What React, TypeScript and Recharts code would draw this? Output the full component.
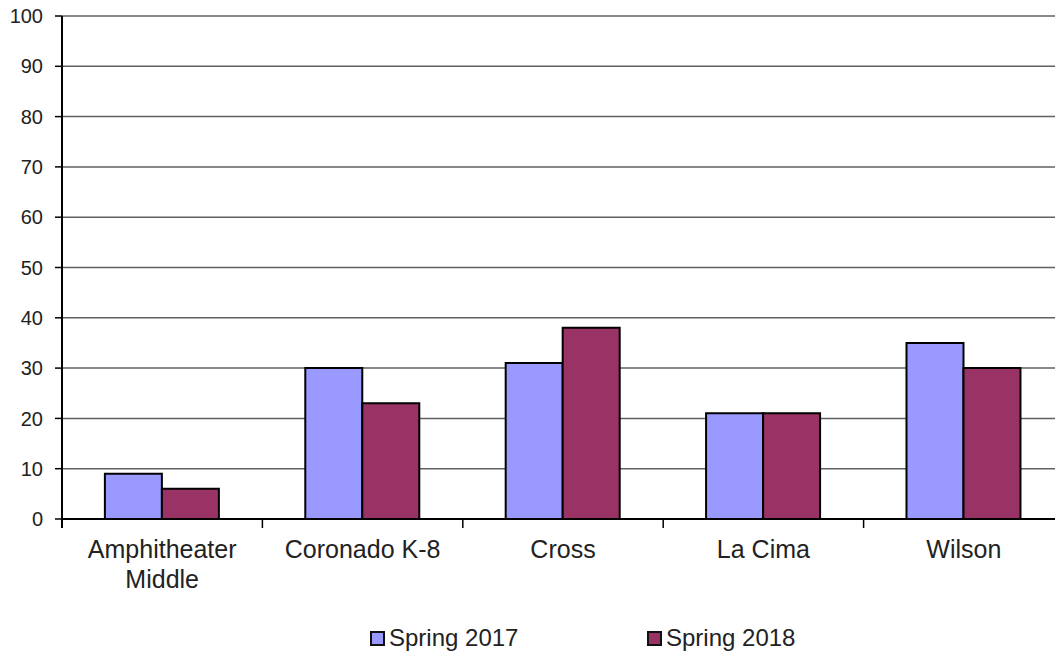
import {
  BarChart, Bar, XAxis, YAxis, CartesianGrid, Legend,
} from "recharts";

const schools = ["Amphitheater\nMiddle", "Coronado K-8", "Cross", "La Cima", "Wilson"];
const spring2017 = [9, 30, 31, 21, 35];
const spring2018 = [6, 23, 38, 21, 30];
const yTicks = [0, 10, 20, 30, 40, 50, 60, 70, 80, 90, 100];

const data = schools.map((name, i) => ({
  name,
  s2017: spring2017[i],
  s2018: spring2018[i],
}));

// the plot runs a little past the right edge of the picture, so draw wider and clip
const W = 1064;
const VIEW_W = 1055;
const H = 652;
const Y_AXIS_W = 62;
const BAND = (W - Y_AXIS_W) / schools.length;
const FONT = "'Liberation Sans', Arial, sans-serif";

function SchoolTick(props: any) {
  const { x, y, payload, index } = props;
  const lines = String(payload.value).split("\n");
  return (
    <g>
      {index === 0 && (
        <line x1={x - BAND / 2} x2={x - BAND / 2} y1={y} y2={y + 9} stroke="#000" strokeWidth={2} />
      )}
      <line x1={x + BAND / 2} x2={x + BAND / 2} y1={y} y2={y + 9} stroke="#000" strokeWidth={1.5} />
      {lines.map((l, i) => (
        <text
          key={i}
          x={x}
          y={y + 39 + i * 30}
          textAnchor="middle"
          fontSize={25}
          fontFamily={FONT}
          fill="#222"
        >
          {l}
        </text>
      ))}
    </g>
  );
}

function LegendBox() {
  const items = [
    { label: "Spring 2017", color: "#9999FF", left: 370 },
    { label: "Spring 2018", color: "#993366", left: 647 },
  ];
  return (
    <div style={{ position: "relative", height: 53, fontFamily: FONT }}>
      {items.map((it) => (
        <div
          key={it.label}
          style={{
            position: "absolute",
            left: it.left,
            top: 26,
            display: "flex",
            alignItems: "center",
            fontSize: 24,
            color: "#222",
            lineHeight: "26px",
          }}
        >
          <span
            style={{
              display: "inline-block",
              width: 11,
              height: 11,
              background: it.color,
              border: "2px solid #111",
              marginRight: 4,
            }}
          />
          {it.label}
        </div>
      ))}
    </div>
  );
}

export default function App() {
  return (
    <div
      style={{
        position: "absolute",
        left: 0,
        top: 0,
        width: VIEW_W,
        height: H,
        overflow: "hidden",
        background: "#fff",
      }}
    >
      <BarChart
        width={W}
        height={H}
        data={data}
        margin={{ top: 16, right: 0, left: 0, bottom: 0 }}
        barCategoryGap="21.4%"
        barGap={0}
      >
        <CartesianGrid vertical={false} stroke="#606060" strokeWidth={1.5} />
        <XAxis
          dataKey="name"
          height={80}
          interval={0}
          tickLine={false}
          tickSize={0}
          tickMargin={0}
          axisLine={{ stroke: "#000", strokeWidth: 2 }}
          tick={<SchoolTick />}
        />
        <YAxis
          width={Y_AXIS_W}
          domain={[0, 100]}
          ticks={yTicks}
          interval={0}
          tickSize={7}
          tickMargin={12}
          axisLine={{ stroke: "#000", strokeWidth: 2 }}
          tickLine={{ stroke: "#000", strokeWidth: 1.5 }}
          tick={{ fontSize: 20, fontFamily: FONT, fill: "#222" }}
        />
        <Legend verticalAlign="bottom" height={53} content={() => <LegendBox />} />
        <Bar dataKey="s2017" name="Spring 2017" fill="#9999FF" stroke="#000" strokeWidth={2} isAnimationActive={false} />
        <Bar dataKey="s2018" name="Spring 2018" fill="#993366" stroke="#000" strokeWidth={2} isAnimationActive={false} />
      </BarChart>
    </div>
  );
}
